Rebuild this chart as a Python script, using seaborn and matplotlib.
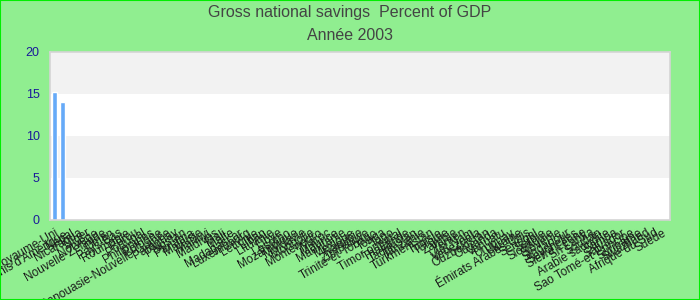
import matplotlib
matplotlib.use("Agg")
import matplotlib.pyplot as plt
import matplotlib.patches as mpatches
import seaborn as sns
import numpy as np
import pandas as pd

title = "Gross national savings  Percent of GDP"
subtitle = "Année 2003"

countries = [
    "Royaume-Uni", "États-Unis d'Amérique", "Népal", "Nicaragua", "Niger",
    "Norvège", "Nouvelle-Zélande", "Oman", "Pays-Bas", "Roumanie",
    "Pérou", "Portugal", "Philippines", "Pologne", "Papouasie-Nouvelle-Guinée",
    "Paraguay", "Pakistan", "Panama", "Malaisie", "Malawi",
    "Maldives", "Mali", "Malte", "Madagascar", "Luxembourg",
    "Lettonie", "Liban", "Lituanie", "Libye", "Lesotho",
    "Mozambique", "Moldavie", "Mongolie", "Monténégro", "Maroc",
    "Maurice", "Mauritanie", "Mexique", "Namibie", "Zimbabwe",
    "Trinité-et-Tobago", "Tonga", "Togo", "Timor oriental", "Thaïlande",
    "Tadjikistan", "Tanzanie", "Turkménistan", "Tunisie", "Turquie",
    "Zambie", "Yémen", "Viêt Nam", "Venezuela", "Ouzbékistan",
    "Ouganda", "Vanuatu", "Uruguay", "Ukraine", "Émirats Arabes Unis",
    "Sénégal", "Serbie", "Slovaquie", "Slovénie", "Singapour",
    "Seychelles", "Sierra Leone", "Sri Lanka", "Soudan", "Arabie saoudite",
    "Samoa", "Salvador", "Sao Tomé-et-Principe", "Suriname", "Swaziland",
    "Afrique du Sud", "Suède",
]

values = [
    15.2, 14.0, np.nan, np.nan, np.nan, np.nan, np.nan, np.nan, np.nan, np.nan,
    np.nan, np.nan, np.nan, np.nan, np.nan, np.nan, np.nan, np.nan, np.nan, np.nan,
    np.nan, np.nan, np.nan, np.nan, np.nan, np.nan, np.nan, np.nan, np.nan, np.nan,
    np.nan, np.nan, np.nan, np.nan, np.nan, np.nan, np.nan, np.nan, np.nan, np.nan,
    np.nan, np.nan, np.nan, np.nan, np.nan, np.nan, np.nan, np.nan, np.nan, np.nan,
    np.nan, np.nan, np.nan, np.nan, np.nan, np.nan, np.nan, np.nan, np.nan, np.nan,
    np.nan, np.nan, np.nan, np.nan, np.nan, np.nan, np.nan, np.nan, np.nan, np.nan,
    np.nan, np.nan, np.nan, np.nan, np.nan, np.nan, np.nan,
]

y_ticks = [0, 5, 10, 15, 20]

df = pd.DataFrame({"country": countries, "value": values})

sns.set_style("white")
plt.rcParams["font.family"] = ["Liberation Sans", "DejaVu Sans"]

fig = plt.figure(figsize=(7, 3), dpi=100, facecolor="#90ee90")
W, H = 700, 300
ax = fig.add_axes([50 / W, (H - 220) / H, 620 / W, (220 - 51.5) / H])
ax.set_facecolor("white")

# alternating bands
for lo, hi in zip(y_ticks[:-1], y_ticks[1:]):
    if (lo // 5) % 2 == 1:
        ax.axhspan(lo, hi, color="#f2f2f2", zorder=0, lw=0)

sns.barplot(data=df, x="country", y="value", order=countries, color="#66aaf8",
            width=0.62, saturation=1, ax=ax, zorder=2, errorbar=None)

n = len(countries)
ax.set_xlim(-0.56, n - 0.56 + 0.5)
ax.set_ylim(0, 20)
ax.set_yticks(y_ticks)
ax.set_yticklabels([str(t) for t in y_ticks], color="#1a1a99", fontsize=9)
ax.set_xticks(range(n))
ax.set_xticklabels(countries, rotation=30, ha="right", rotation_mode="anchor",
                   fontsize=8.5, color="#1a1a1a")
ax.tick_params(axis="both", length=0)
ax.tick_params(axis="y", pad=7.5)
ax.tick_params(axis="x", pad=5)
ax.set_xlabel("")
ax.set_ylabel("")
for s in ax.spines.values():
    s.set_color("#d4d4d4")
    s.set_linewidth(1.2)

fig.text(0.5, 1 - 12 / H, title, ha="center", va="center", fontsize=11.5, color="#444444")
fig.text(0.5, 1 - 36 / H, subtitle, ha="center", va="center", fontsize=11.5, color="#444444")

fig.patches.append(mpatches.Rectangle((0, 0), 1, 1, transform=fig.transFigure,
                                      fill=False, edgecolor="#00ee00", linewidth=1.5))

fig.savefig("out.png", dpi=100, facecolor=fig.get_facecolor())
